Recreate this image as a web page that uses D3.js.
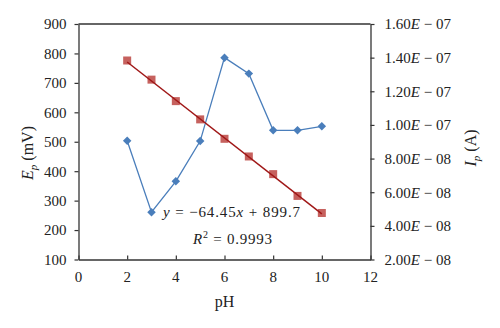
<!DOCTYPE html>
<html><head><meta charset="utf-8">
<script src="https://cdn.jsdelivr.net/npm/d3@7"></script>
<style>
html,body{margin:0;padding:0;background:#fff;}
svg{display:block;}
svg text{font-family:"Liberation Serif","Times New Roman",serif !important;}
</style></head>
<body>
<svg id="chart" width="500" height="328"></svg>
<script>
// ---- data ----
const pH = [2, 3, 4, 5, 6, 7, 8, 9, 10];
const Ep = [776, 711, 638, 576, 510, 450, 390, 316, 258];          // mV, left axis
const Ip = [9.06e-8, 4.81e-8, 6.65e-8, 9.04e-8, 1.40e-7, 1.305e-7, 9.68e-8, 9.68e-8, 9.92e-8]; // A, right axis
const xTicks = [0, 2, 4, 6, 8, 10, 12];
const leftTicks = [100, 200, 300, 400, 500, 600, 700, 800, 900];
const rightTicks = [2e-8, 4e-8, 6e-8, 8e-8, 1e-7, 1.2e-7, 1.4e-7, 1.6e-7];
const rightTickMantissa = ["2.00", "4.00", "6.00", "8.00", "1.00", "1.20", "1.40", "1.60"];
const rightTickExponent = ["08", "08", "08", "08", "07", "07", "07", "07"];
const slope = -64.45, intercept = 899.7, r2 = "0.9993";

// ---- layout ----
const svg = d3.select("#chart");
const L = 78.5, R = 370.5, T = 24, B = 259.5;
const x = d3.scaleLinear().domain([0, 12]).range([L, R]);
const yL = d3.scaleLinear().domain([100, 900]).range([B, T]);
const yR = d3.scaleLinear().domain([2e-8, 1.6e-7]).range([B, T]);
const axisColor = "#333";
const fs = 15;
const FF = "Liberation Serif, serif";

// frame top
svg.append("line").attr("x1", L).attr("x2", R).attr("y1", T).attr("y2", T)
  .attr("stroke", axisColor).attr("stroke-width", 1.3);

// left axis
const gL = svg.append("g").attr("transform", `translate(${L},0)`)
  .call(d3.axisLeft(yL).tickValues(leftTicks).tickSize(4).tickPadding(8).tickSizeOuter(0));
// right axis
const gR = svg.append("g").attr("transform", `translate(${R},0)`)
  .call(d3.axisRight(yR).tickValues(rightTicks).tickSize(4).tickPadding(10).tickSizeOuter(0).tickFormat(""));
// bottom axis (inward ticks)
const gB = svg.append("g").attr("transform", `translate(0,${B})`)
  .call(d3.axisBottom(x).tickValues(xTicks).tickSize(-4).tickPadding(0).tickSizeOuter(0).tickFormat(""));

[gL, gR, gB].forEach(g => {
  g.attr("font-family", FF).attr("font-size", fs);
  g.selectAll("path.domain").attr("stroke", axisColor).attr("stroke-width", 1.3);
  g.selectAll(".tick line").attr("stroke", axisColor).attr("stroke-width", 1.2);
  g.selectAll("text").attr("fill", "#222");
});

// right tick labels with italic E
gR.selectAll(".tick").each(function(d, i) {
  const t = d3.select(this).select("text").text(null).attr("x", 14).attr("text-anchor", "start");
  t.append("tspan").text(rightTickMantissa[i]);
  t.append("tspan").attr("font-style", "italic").text("E");
  t.append("tspan").text(" \u2212 " + rightTickExponent[i]);
});

// bottom labels
svg.append("g").attr("font-family", FF).selectAll("text").data(xTicks).join("text")
  .attr("x", d => x(d)).attr("y", 281.5).attr("text-anchor", "middle")
  .attr("font-size", fs).attr("fill", "#222").text(d => d);

// axis titles
svg.append("text").attr("x", 224.5).attr("y", 307).attr("text-anchor", "middle")
  .attr("font-family", FF).attr("font-size", fs + 1).attr("fill", "#222").text("pH");

const tL = svg.append("text").attr("transform", "translate(33,153) rotate(-90)")
  .attr("text-anchor", "middle").attr("font-family", FF).attr("font-size", fs + 1).attr("fill", "#222");
tL.append("tspan").attr("font-style", "italic").text("E");
tL.append("tspan").attr("font-style", "italic").attr("font-size", 11).attr("dy", 4).text("p");
tL.append("tspan").attr("dy", -4).text(" (mV)");

const tR = svg.append("text").attr("transform", "translate(476,148) rotate(-90)")
  .attr("text-anchor", "middle").attr("font-family", FF).attr("font-size", fs + 1).attr("fill", "#222");
tR.append("tspan").attr("font-style", "italic").text("I");
tR.append("tspan").attr("font-style", "italic").attr("font-size", 11).attr("dy", 4).text("p");
tR.append("tspan").attr("dy", -4).text(" (A)");

// Ip series (blue line + diamonds)
const blue = "#4a7ebb";
svg.append("path").datum(pH.map((p, i) => [p, Ip[i]]))
  .attr("fill", "none").attr("stroke", blue).attr("stroke-width", 1.3)
  .attr("d", d3.line().x(d => x(d[0])).y(d => yR(d[1])));
svg.append("g").selectAll("path").data(pH.map((p, i) => [p, Ip[i]])).join("path")
  .attr("d", d3.symbol(d3.symbolSquare, 36)())
  .attr("transform", d => `translate(${x(d[0])},${yR(d[1])}) rotate(45)`)
  .attr("fill", blue);

// Ep series squares
svg.append("g").selectAll("rect").data(pH.map((p, i) => [p, Ep[i]])).join("rect")
  .attr("x", d => x(d[0]) - 4).attr("y", d => yL(d[1]) - 4)
  .attr("width", 8).attr("height", 8)
  .attr("fill", "#c0504d").attr("fill-opacity", 0.9);

// trendline
const xr = d3.extent(pH);
svg.append("line")
  .attr("x1", x(xr[0])).attr("y1", yL(slope * xr[0] + intercept))
  .attr("x2", x(xr[1])).attr("y2", yL(slope * xr[1] + intercept))
  .attr("stroke", "#a01818").attr("stroke-width", 1.5);

// equation
const eq = svg.append("text").attr("x", 231.5).attr("y", 217).attr("text-anchor", "middle")
  .attr("font-family", FF).attr("font-size", fs).attr("fill", "#222")
  .attr("textLength", 137).attr("lengthAdjust", "spacing");
eq.append("tspan").attr("font-style", "italic").text("y");
eq.append("tspan").text(" = \u2212" + Math.abs(slope).toFixed(2));
eq.append("tspan").attr("font-style", "italic").text("x");
eq.append("tspan").text(" + " + intercept.toFixed(1));

const r2t = svg.append("text").attr("x", 232.5).attr("y", 244).attr("text-anchor", "middle")
  .attr("font-family", FF).attr("font-size", fs).attr("fill", "#222")
  .attr("textLength", 79).attr("lengthAdjust", "spacing");
r2t.append("tspan").attr("font-style", "italic").text("R");
r2t.append("tspan").attr("font-size", 10).attr("dy", -6).text("2");
r2t.append("tspan").attr("dy", 6).text(" = " + r2);
</script>
</body></html>
